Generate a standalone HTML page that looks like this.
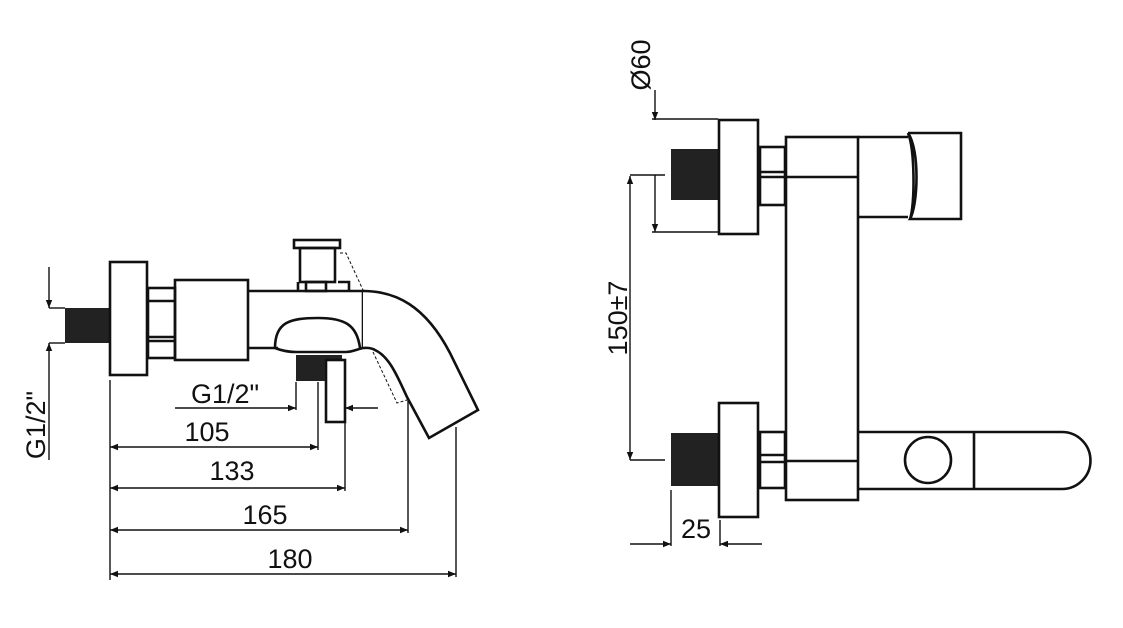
<!DOCTYPE html>
<html><head><meta charset="utf-8"><style>
html,body{margin:0;padding:0;background:#fff;width:1123px;height:628px;overflow:hidden}
svg text{font-family:"Liberation Sans",sans-serif;font-size:27px;fill:#111}
</style></head><body>
<svg width="1123" height="628" viewBox="0 0 1123 628" xmlns="http://www.w3.org/2000/svg">
<defs>
<marker id="a" viewBox="0 0 10 10" refX="10" refY="5" markerWidth="16" markerHeight="8" markerUnits="userSpaceOnUse" orient="auto-start-reverse"><path d="M0,1 L10,5 L0,9z" fill="#111"/></marker>
</defs>
<g fill="none" stroke="#111" stroke-width="2.6">
<!-- LEFT VIEW -->
<rect x="65" y="308" width="45" height="35" fill="#222" stroke="none"/>
<rect x="110" y="262" width="37" height="113" fill="#fff"/>
<rect x="148" y="288" width="27" height="70"/>
<line x1="148" y1="301" x2="175" y2="301"/><line x1="148" y1="337" x2="175" y2="337"/><line x1="148" y1="341" x2="175" y2="341"/>
<rect x="175" y="280" width="73" height="80"/>
<path d="M248,291 H363 V348"/>
<path d="M248,348 H278"/>
<rect x="294" y="240" width="46" height="8"/>
<rect x="300" y="248" width="35" height="34"/>
<rect x="306" y="282" width="20" height="9"/>
<path d="M298,282 V291 M338,282 H349 V291"/>
<path d="M340,253 L346,253 L363,290" stroke-width="1" stroke-dasharray="3,2"/>
<path d="M275,348 C275,322 290,318 318,318 C345,318 357,325 360,348"/>
<path d="M275,348 C285,352 292,352 296,352 H346 C352,352 358,349 363,348"/>
<path d="M363,291 C395,291 425,305 450,353 L478,410 L429,438 L407,397 C398,378 390,357 375,350 C370,347 365,348 363,348" fill="#fff"/>
<path d="M373,352 L397,403 L407,400" stroke-width="1" stroke-dasharray="3,2"/>
<rect x="296" y="355" width="46" height="26" fill="#222" stroke="none"/>
<rect x="326" y="360" width="19" height="62" fill="#fff"/>
<rect x="296" y="355" width="29" height="26" fill="#222" stroke="none"/>
<g stroke-width="1.4">
<line x1="49" y1="267" x2="49" y2="308" marker-end="url(#a)"/>
<line x1="49" y1="460" x2="49" y2="343" marker-end="url(#a)"/>
<line x1="49" y1="308" x2="65" y2="308"/><line x1="49" y1="343" x2="65" y2="343"/>
<line x1="175" y1="408" x2="296" y2="408" marker-end="url(#a)"/>
<line x1="378" y1="408" x2="345" y2="408" marker-end="url(#a)"/>
<line x1="296" y1="382" x2="296" y2="410"/>
<line x1="110" y1="380" x2="110" y2="580"/>
<line x1="318" y1="382" x2="318" y2="450"/>
<line x1="345" y1="422" x2="345" y2="491"/>
<line x1="408" y1="398" x2="408" y2="533"/>
<line x1="456" y1="427" x2="456" y2="577"/>
<line x1="110" y1="447" x2="318" y2="447" marker-start="url(#a)" marker-end="url(#a)"/>
<line x1="110" y1="488" x2="345" y2="488" marker-start="url(#a)" marker-end="url(#a)"/>
<line x1="110" y1="530" x2="408" y2="530" marker-start="url(#a)" marker-end="url(#a)"/>
<line x1="110" y1="574" x2="456" y2="574" marker-start="url(#a)" marker-end="url(#a)"/>
</g>
<!-- RIGHT VIEW -->
<rect x="671" y="149" width="49" height="51" fill="#222" stroke="none"/>
<rect x="671" y="433" width="49" height="53" fill="#222" stroke="none"/>
<rect x="719" y="120" width="39" height="114" fill="#fff"/>
<rect x="719" y="403" width="39" height="114" fill="#fff"/>
<rect x="760" y="147" width="25" height="58"/>
<line x1="760" y1="172" x2="785" y2="172"/><line x1="760" y1="177" x2="785" y2="177"/>
<rect x="760" y="432" width="25" height="56"/>
<line x1="760" y1="455" x2="785" y2="455"/><line x1="760" y1="462" x2="785" y2="462"/>
<rect x="786" y="137" width="72" height="363"/>
<line x1="786" y1="177" x2="858" y2="177"/><line x1="786" y1="461" x2="858" y2="461"/>
<path d="M858,137 H908 M858,217 H908"/>
<path d="M908,133 H961 V219 H910 C918,205 920,150 908,133 C915,150 915,205 910,219"/>
<path d="M858,432 H1062 A28.5,28.5 0 0 1 1062,489 H858"/>
<line x1="974" y1="432" x2="974" y2="489"/>
<circle cx="928" cy="460" r="23"/>
<g stroke-width="1.4">
<line x1="655" y1="90" x2="655" y2="120" marker-end="url(#a)"/>
<line x1="655" y1="175" x2="655" y2="232" marker-end="url(#a)"/>
<line x1="652" y1="119" x2="718" y2="119"/><line x1="652" y1="232" x2="718" y2="232"/>
<line x1="630" y1="318" x2="630" y2="176" marker-end="url(#a)"/>
<line x1="630" y1="318" x2="630" y2="460" marker-end="url(#a)"/>
<line x1="630" y1="175" x2="665" y2="175"/><line x1="630" y1="460" x2="665" y2="460"/>
<line x1="630" y1="544" x2="671" y2="544" marker-end="url(#a)"/>
<line x1="762" y1="544" x2="720" y2="544" marker-end="url(#a)"/>
<line x1="671" y1="490" x2="671" y2="546"/><line x1="720" y1="520" x2="720" y2="546"/>
</g>
</g>
<text x="225" y="403" text-anchor="middle">G1/2"</text>
<text x="207" y="441" text-anchor="middle">105</text>
<text x="232" y="480" text-anchor="middle">133</text>
<text x="265" y="524" text-anchor="middle">165</text>
<text x="290" y="568" text-anchor="middle">180</text>
<text transform="translate(45,425) rotate(-90)" text-anchor="middle">G1/2"</text>
<text transform="translate(650,65) rotate(-90)" text-anchor="middle">Ø60</text>
<text transform="translate(627,318) rotate(-90)" text-anchor="middle">150±7</text>
<text x="696" y="538" text-anchor="middle">25</text>
</svg>
</body></html>
